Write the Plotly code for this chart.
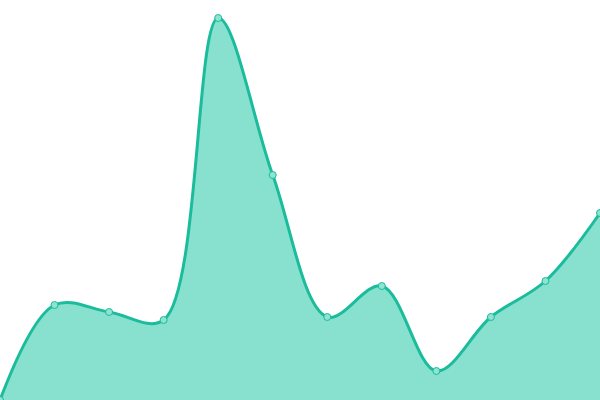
import plotly.graph_objects as go

# values (0 = bottom, 400 = top)
x_vals = list(range(12))
y_vals = [0, 95, 88, 80, 382, 225, 83, 114, 29, 83, 119, 187]

fig = go.Figure(go.Scatter(
    x=x_vals, y=y_vals,
    mode='lines+markers',
    line=dict(shape='spline', smoothing=1, color='#1abc9c', width=3),
    marker=dict(size=7, color='#8ee3d1', line=dict(color='#1abc9c', width=1)),
    fill='tozeroy', fillcolor='#88e0cf',
    cliponaxis=False,
))

fig.update_layout(
    width=600, height=400,
    margin=dict(l=0, r=0, t=0, b=0),
    paper_bgcolor='white', plot_bgcolor='white',
    showlegend=False,
    xaxis=dict(range=[0, 11], visible=False),
    yaxis=dict(range=[0, 400], visible=False),
)

# drop the browser's default body margin so the chart sits at (0, 0)
fig.write_html("out.html", config={'displayModeBar': False},
               post_script="document.body.style.margin='0';")
